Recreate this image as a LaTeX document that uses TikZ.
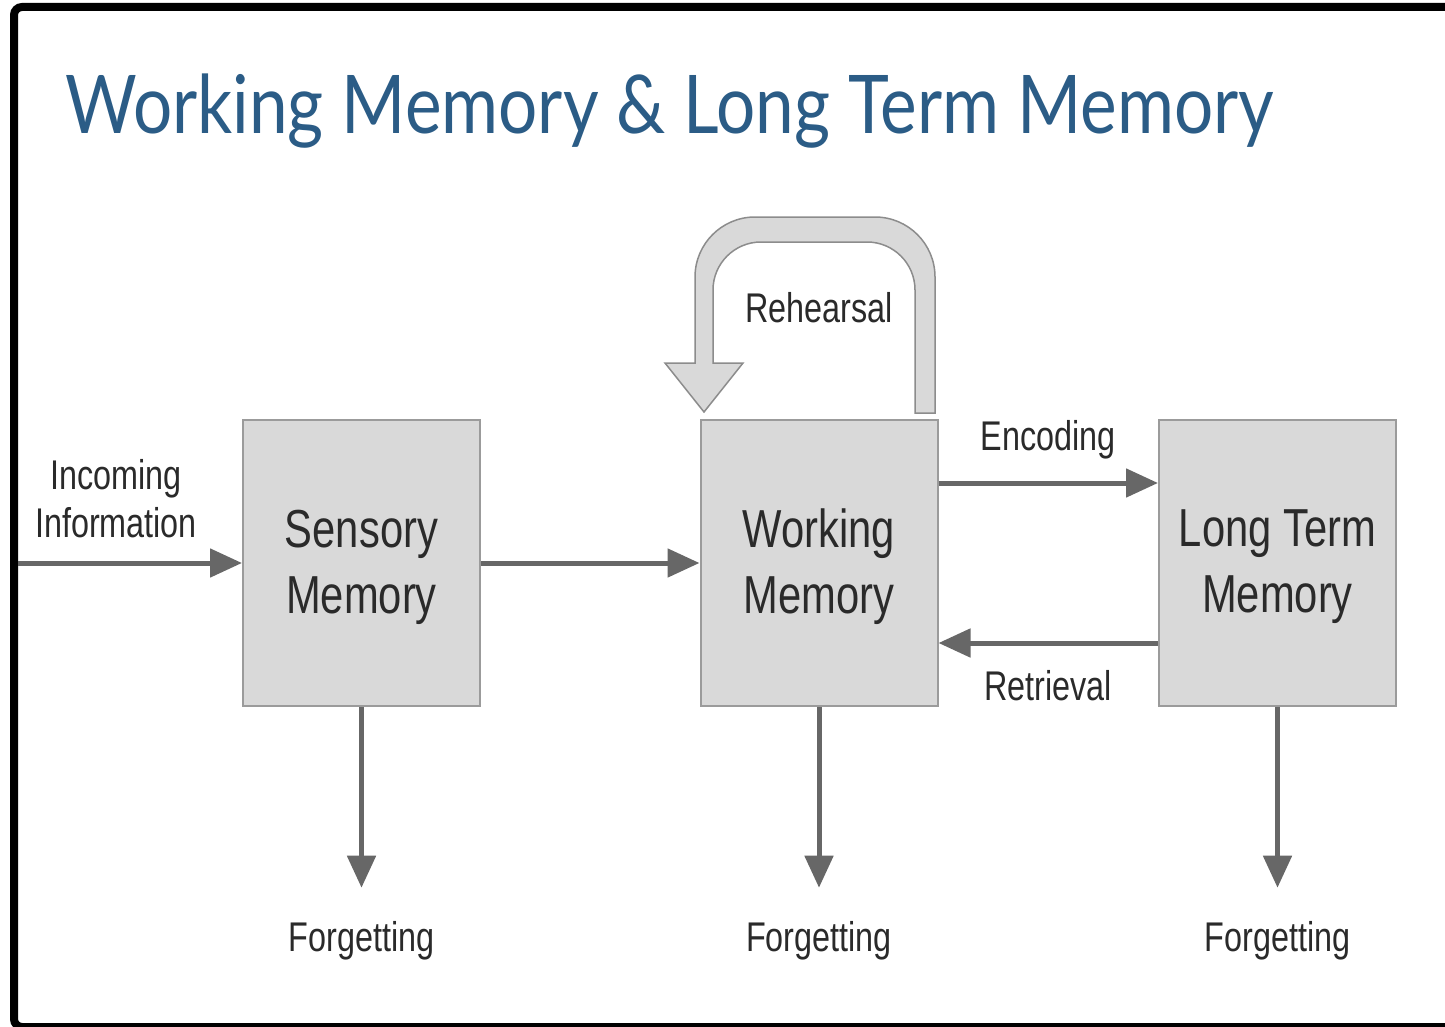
\documentclass[tikz,border=0pt]{standalone}
\usepackage{fontspec}
\usetikzlibrary{arrows.meta}
\newfontfamily\labelfont{Liberation Sans}[FakeStretch=0.78]
\newfontfamily\headfont{Lato}[FakeStretch=0.855]
\definecolor{headblue}{HTML}{2B5C86}
\definecolor{boxfill}{HTML}{D9D9D9}
\definecolor{boxline}{HTML}{9B9B9B}
\definecolor{loopline}{HTML}{8C8C8C}
\definecolor{flow}{HTML}{676767}
\definecolor{ink}{HTML}{2A2A2A}

\begin{document}
\begin{tikzpicture}[x=1pt,y=-1pt,
  memorybox/.style={draw=boxline, line width=2pt, fill=boxfill,
    minimum width=237pt, minimum height=286pt, inner sep=0pt},
  boxtext/.style={inner sep=0pt, align=center, text=ink,
    font=\labelfont\fontsize{53.5}{66}\selectfont},
  tag/.style={text=ink, inner sep=0pt, align=center,
    font=\labelfont\fontsize{41.5}{48}\selectfont},
  flowline/.style={draw=flow, line width=5pt,
    -{Triangle[length=32pt,width=28pt]}},
]
\useasboundingbox (0,0) rectangle (1445,1027);

% frame
\draw[line width=8pt, rounded corners=8pt] (1460,7) -- (14,7) -- (14,1027) -- (1460,1027);

% heading
\node[anchor=base west, text=headblue, inner sep=0pt,
      font=\headfont\fontsize{81}{90}\selectfont] (title) at (65,134)
      {Working Memory \& Long Term Memory};

% memory stores
\node[memorybox] (sm)  at (361.5,563)  {};
\node[memorybox] (wm)  at (819,563)    {};
\node[memorybox] (ltm) at (1277.5,563) {};
\node[boxtext, yshift=-4pt] (smtext)  at (sm.center)  {Sensory\\Memory};
\node[boxtext, yshift=-4pt] (wmtext)  at (wm.center)  {Working\\Memory};
\node[boxtext, yshift=-4pt] (ltmtext) at (ltm.center) {Long Term\\Memory};

% rehearsal loop (block arrow)
\filldraw[fill=boxfill, draw=loopline, line width=1.5pt]
  (935,413) -- (935,277) .. controls (935,243.9) and (908.1,217) .. (875,217)
  -- (755,217) .. controls (721.9,217) and (695,243.9) .. (695,277)
  -- (695,363) -- (665,363) -- (704,412) -- (743,363) -- (713,363)
  -- (713,290) .. controls (713,263.5) and (734.5,242) .. (761,242)
  -- (867,242) .. controls (893.5,242) and (915,263.5) .. (915,290)
  -- (915,413) -- cycle;

% labels
\coordinate (src) at (18,563);
\node[tag] (inc) at (116,499) {Incoming\\Information};
\node[tag, anchor=base] (reh) at (819,322)  {Rehearsal};
\node[tag, anchor=base] (enc) at (1048,450) {Encoding};
\node[tag, anchor=base] (ret) at (1048,700) {Retrieval};
\node[tag, anchor=base] (f1)  at (361.5,951)  {Forgetting};
\node[tag, anchor=base] (f2)  at (819,951)    {Forgetting};
\node[tag, anchor=base] (f3)  at (1277.5,951) {Forgetting};

% connectors
\draw[flowline] (src) -- (sm.west);
\draw[flowline] (sm) -- (wm);
\draw[flowline] ([yshift=80pt]wm.east) -- ([yshift=80pt]ltm.west);
\draw[flowline] ([yshift=-80pt]ltm.west) -- ([yshift=-80pt]wm.east);
\draw[flowline, shorten >=33pt] (sm.south)  -- (f1.north);
\draw[flowline, shorten >=33pt] (wm.south)  -- (f2.north);
\draw[flowline, shorten >=33pt] (ltm.south) -- (f3.north);
\end{tikzpicture}
\end{document}
